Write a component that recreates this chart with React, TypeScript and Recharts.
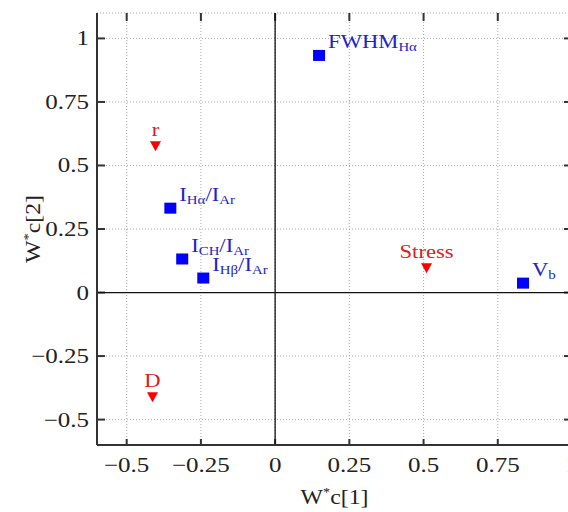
import React from 'react';
import { ScatterChart, Scatter, XAxis, YAxis, CartesianGrid, ReferenceLine, Label } from 'recharts';

const SERIF = '"Liberation Serif", "Times New Roman", serif';
const SX = 1.19; // the original glyphs look stretched sideways

const xTicks = [-0.5, -0.25, 0, 0.25, 0.5, 0.75, 1];
const yTicks = [-0.5, -0.25, 0, 0.25, 0.5, 0.75, 1];

type Seg = [string, boolean];

// blue squares (variables)
const squareX = [0.148, 0.835, -0.353, -0.313, -0.242];
const squareY = [0.933, 0.037, 0.332, 0.132, 0.057];
const squareLabels: Seg[][] = [
  [['FWHM', false], ['Hα', true]],
  [['V', false], ['b', true]],
  [['I', false], ['Hα', true], ['/I', false], ['Ar', true]],
  [['I', false], ['CH', true], ['/I', false], ['Ar', true]],
  [['I', false], ['Hβ', true], ['/I', false], ['Ar', true]],
];

// red triangles (responses)
const triangleX = [-0.403, -0.413, 0.51];
const triangleY = [0.576, -0.412, 0.096];
const triangleLabels = ['r', 'D', 'Stress'];

const squareData = squareX.map((x, i) => ({ x, y: squareY[i], label: squareLabels[i] }));
const triangleData = triangleX.map((x, i) => ({ x, y: triangleY[i], label: triangleLabels[i] }));

const fmt = (v: number) => (v < 0 ? '\u2212' + Math.abs(v) : String(v));

const SquareShape = (props: any) => {
  const { cx, cy, payload } = props;
  let prevSub = false;
  return (
    <g>
      <rect x={cx - 6} y={cy - 5.5} width={12} height={11} fill="#0000ff" />
      <g transform={`translate(${cx + 9},${cy - 7}) scale(${SX},1)`}>
        <text x={0} y={0} fontFamily={SERIF} fontSize={19} fill="#2323c8">
          {payload.label.map(([t, sub]: Seg, i: number) => {
            const dy = (sub ? 3 : 0) - (prevSub ? 3 : 0);
            prevSub = sub;
            return (
              <tspan key={i} dy={dy} fontSize={sub ? 12.5 : 19}>
                {t}
              </tspan>
            );
          })}
        </text>
      </g>
    </g>
  );
};

const TriangleShape = (props: any) => {
  const { cx, cy, payload } = props;
  return (
    <g>
      <path d={`M${cx - 5.5},${cy - 5} L${cx + 5.5},${cy - 5} L${cx},${cy + 5} Z`} fill="#ff0000" />
      <g transform={`translate(${cx},${cy - 10}) scale(${SX},1)`}>
        <text x={0} y={0} textAnchor="middle" fontFamily={SERIF} fontSize={19} fill="#d82020">
          {payload.label}
        </text>
      </g>
    </g>
  );
};

const XTick = (props: any) => {
  const { x, y, payload } = props;
  return (
    <g transform={`translate(${x},${y + 27}) scale(${SX},1)`}>
      <text x={0} y={0} textAnchor="middle" fontFamily={SERIF} fontSize={21} fill="#222">
        {fmt(payload.value)}
      </text>
    </g>
  );
};

const YTick = (props: any) => {
  const { x, y, payload } = props;
  return (
    <g transform={`translate(${x - 8},${y + 7}) scale(${SX},1)`}>
      <text x={0} y={0} textAnchor="end" fontFamily={SERIF} fontSize={21} fill="#222">
        {fmt(payload.value)}
      </text>
    </g>
  );
};

const XTitle = (props: any) => {
  const { x, y, width } = props.viewBox;
  return (
    <g transform={`translate(${x + width / 2},${y + 59}) scale(${SX},1)`}>
      <text x={0} y={0} textAnchor="middle" fontFamily={SERIF} fontSize={20} fill="#222">
        W<tspan dy={-8} fontSize={12}>*</tspan>
        <tspan dy={8}>c[1]</tspan>
      </text>
    </g>
  );
};

const YTitle = (props: any) => {
  const { x, y, height } = props.viewBox;
  return (
    <g transform={`translate(${x + 20},${y + height / 2}) rotate(-90) scale(${SX},1)`}>
      <text x={0} y={0} textAnchor="middle" fontFamily={SERIF} fontSize={20} fill="#222">
        W<tspan dy={-8} fontSize={12}>*</tspan>
        <tspan dy={8}>c[2]</tspan>
      </text>
    </g>
  );
};

// inward tick marks: draw only both ends of a full-span reference line
const TickPair = (props: any) => {
  const { x1, y1, x2, y2 } = props;
  const len = 8;
  if (x1 === x2) {
    const top = Math.min(y1, y2);
    const bot = Math.max(y1, y2);
    return (
      <g stroke="#333" strokeWidth={2}>
        <line x1={x1} x2={x1} y1={top} y2={top + len} />
        <line x1={x1} x2={x1} y1={bot} y2={bot - 6} />
      </g>
    );
  }
  const left = Math.min(x1, x2);
  const right = Math.max(x1, x2);
  return (
    <g stroke="#333" strokeWidth={2}>
      <line x1={left} x2={left + len} y1={y1} y2={y1} />
      <line x1={right} x2={right - len} y1={y1} y2={y1} />
    </g>
  );
};

const axisStroke = { stroke: '#333', strokeWidth: 2 };
const noTick = () => <g />;

export default function App() {
  return (
    <div style={{ position: 'absolute', left: 0, top: 0, width: 568, height: 512, overflow: 'hidden', background: '#fff' }}>
      <ScatterChart width={572} height={512} margin={{ top: 13, right: 0, bottom: 0, left: 20 }}>
        <CartesianGrid stroke="#aaa" strokeDasharray="1 2" />
        <XAxis
          type="number"
          dataKey="x"
          domain={[-0.6, 1]}
          ticks={xTicks}
          allowDataOverflow
          height={67}
          axisLine={axisStroke}
          tickLine={false}
          tickSize={0}
          tickMargin={0}
          tick={<XTick />}
          interval={0}
        >
          <Label content={<XTitle />} />
        </XAxis>
        <XAxis
          xAxisId="top"
          orientation="top"
          type="number"
          domain={[-0.6, 1]}
          ticks={xTicks}
          allowDataOverflow
          height={0}
          axisLine={axisStroke}
          tickLine={false}
          tick={noTick}
          interval={0}
        />
        <YAxis
          type="number"
          dataKey="y"
          domain={[-0.6, 1.1]}
          ticks={yTicks}
          allowDataOverflow
          width={77}
          axisLine={axisStroke}
          tickLine={false}
          tickSize={0}
          tickMargin={0}
          tick={<YTick />}
          interval={0}
        >
          <Label content={<YTitle />} />
        </YAxis>
        <YAxis
          yAxisId="right"
          orientation="right"
          type="number"
          domain={[-0.6, 1.1]}
          ticks={yTicks}
          allowDataOverflow
          width={0}
          axisLine={axisStroke}
          tickLine={false}
          tick={noTick}
          interval={0}
        />
        {xTicks.map((v) => (
          <ReferenceLine key={'xt' + v} x={v} shape={<TickPair />} />
        ))}
        {yTicks.map((v) => (
          <ReferenceLine key={'yt' + v} y={v} shape={<TickPair />} />
        ))}
        <ReferenceLine x={0} stroke="#111" strokeWidth={1.3} />
        <ReferenceLine y={0} stroke="#111" strokeWidth={1.3} />
        <Scatter data={squareData} shape={<SquareShape />} isAnimationActive={false} />
        <Scatter data={triangleData} shape={<TriangleShape />} isAnimationActive={false} />
      </ScatterChart>
    </div>
  );
}
